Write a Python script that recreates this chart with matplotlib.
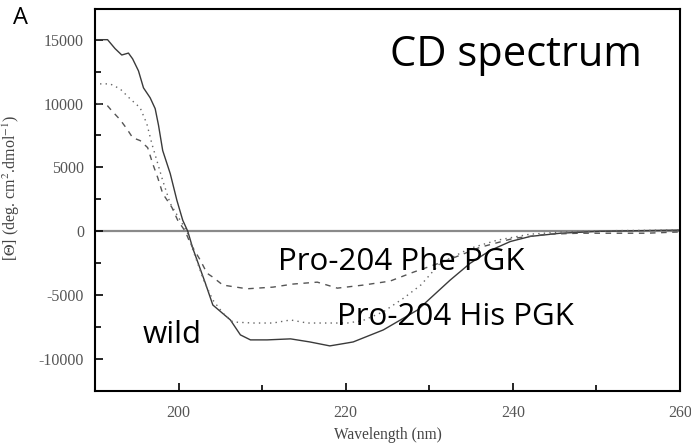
import numpy as np
import matplotlib
matplotlib.use("Agg")
import matplotlib.pyplot as plt
from matplotlib.ticker import MultipleLocator

plt.rcParams["mathtext.fontset"] = "stix"
plt.rcParams["axes.unicode_minus"] = False

# wild type (solid)
wild_wl = [190.2, 191.5, 192.4, 193.2, 194.0, 194.5, 195.2, 195.8, 196.6, 197.2,
           197.6, 198.1, 199.0, 199.8, 200.5, 201.1, 201.7, 203.2, 204.1, 206.2,
           207.4, 208.6, 210.6, 213.4, 215.7, 218.1, 220.2, 220.9, 224.5, 228.6,
           232.5, 234.9, 237.3, 239.7, 242.1, 245.7, 250.5, 255.0, 260.0]
wild_cd = [15000, 15000, 14300, 13800, 13950, 13500, 12560, 11230, 10450, 9600,
           8300, 6320, 4520, 2420, 860, 0, -1330, -4050, -5770, -6940,
           -8110, -8500, -8500, -8420, -8660, -8970, -8740, -8660, -7720, -6160,
           -3820, -2500, -1500, -800, -400, -150, 0, 50, 100]

# Pro-204 His PGK (dotted)
his_wl = [190.6, 191.8, 193.0, 194.2, 195.4, 196.2, 196.8, 197.4, 198.1, 199.0,
          200.2, 201.0, 201.6, 203.0, 204.1, 205.3, 206.5, 208.9, 211.3, 213.4,
          215.4, 220.2, 222.0, 224.5, 227.0, 229.0, 231.3, 234.9, 238.1, 242.0,
          246.0, 252.0, 260.0]
his_cd = [11540, 11540, 11150, 10370, 9670, 8420, 6860, 5540, 3980, 2180,
          860, 0, -1250, -3820, -5380, -6400, -7100, -7180, -7180, -6940,
          -7180, -7180, -7000, -6300, -5200, -4200, -2500, -1330, -700, -230,
          -50, 50, 100]

# Pro-204 Phe PGK (dashed)
phe_wl = [190.2, 191.4, 192.0, 193.0, 193.8, 194.5, 195.4, 196.3, 196.9, 197.5,
          198.1, 199.2, 199.9, 200.8, 201.4, 202.6, 203.4, 204.1, 205.3, 206.2,
          208.2, 211.3, 213.7, 216.6, 219.0, 222.1, 225.3, 228.1, 232.2, 236.1,
          240.1, 244.1, 248.0, 256.0, 260.0]
phe_cd = [10000, 9900, 9440, 8740, 8030, 7330, 7100, 6550, 5300, 4210,
          2960, 1870, 860, 0, -940, -2260, -3280, -3590, -4210, -4300,
          -4500, -4370, -4130, -3980, -4450, -4210, -3900, -3200, -2260, -1250,
          -550, -230, -150, -150, -50]

fig = plt.figure(figsize=(6.91, 4.44), dpi=100)
ax = fig.add_axes([0.1375, 0.1194, 0.8465, 0.8603])

ax.axhline(0, color="#8a8a8a", lw=1.6, zorder=1)
ax.plot(wild_wl, wild_cd, color="#3a3a3a", lw=1.0, ls="-")
ax.plot(his_wl, his_cd, color="#666666", lw=1.0, ls=(0, (1, 3)))
ax.plot(phe_wl, phe_cd, color="#555555", lw=1.0, ls=(0, (4, 4)))

ax.set_xlim(190, 260)
ax.set_ylim(-12500, 17400)
ax.xaxis.set_major_locator(MultipleLocator(20))
ax.xaxis.set_minor_locator(MultipleLocator(10))
ax.yaxis.set_major_locator(MultipleLocator(5000))
ax.yaxis.set_minor_locator(MultipleLocator(2500))
ax.tick_params(which="both", direction="in", color="black", width=1.2)
ax.tick_params(which="major", length=6)
ax.tick_params(which="minor", length=4)
ax.tick_params(axis="x", pad=10)
ax.tick_params(axis="y", pad=8)
for spine in ax.spines.values():
    spine.set_linewidth(1.5)

for lab in ax.get_xticklabels() + ax.get_yticklabels():
    lab.set_family("Liberation Serif")
    lab.set_fontsize(11.5)
    lab.set_color("#555555")

ax.set_xlabel("Wavelength (nm)", family="Liberation Serif", fontsize=11.2,
              color="#444444")
ax.xaxis.set_label_coords(0.5, -0.094)
ax.set_ylabel(r"[$\Theta$] (deg. cm$^2$.dmol$^{-1}$)", family="Liberation Serif",
              fontsize=11.5, color="#444444")
ax.yaxis.set_label_coords(-0.125, 0.531)

fig.text(0.029, 0.96, "A", family="Open Sans", fontsize=17, ha="center", va="center")
ax.text(225.3, 12950, "CD spectrum", family="Open Sans", fontsize=30,
        ha="left", va="baseline")
ax.text(211.9, -3040, "Pro-204 Phe PGK", family="Open Sans", fontsize=22.5,
        ha="left", va="baseline")
ax.text(219.0, -7330, "Pro-204 His PGK", family="Open Sans", fontsize=22.5,
        ha="left", va="baseline")
ax.text(195.75, -8740, "wild", family="Open Sans", fontsize=22.5,
        ha="left", va="baseline")

fig.savefig("out.png", dpi=100)
